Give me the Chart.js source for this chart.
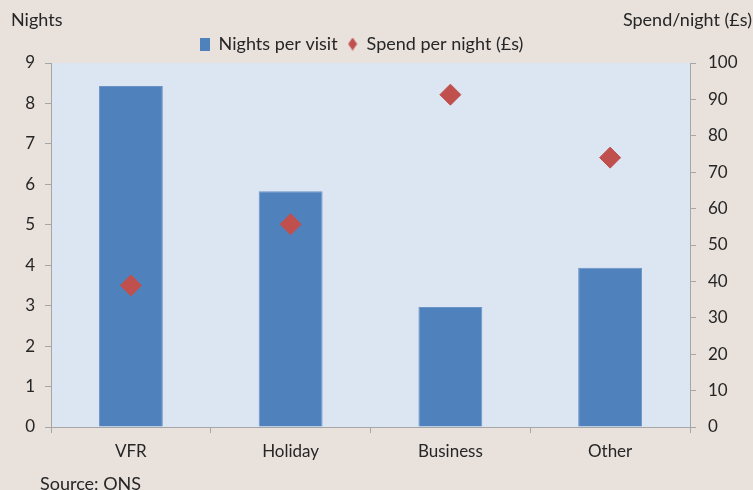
<!DOCTYPE html>
<html>
<head>
<meta charset="utf-8">
<script src="https://cdn.jsdelivr.net/npm/chart.js@4"></script>
<style>
  html, body { margin: 0; padding: 0; background: #e8e1dc; }
  #wrap { width: 753px; height: 490px; position: relative; }
</style>
</head>
<body>
<div id="wrap"><canvas id="visitChart"></canvas></div>
<script>
// Nights per visit (left axis) and spend per night (right axis) by purpose
const categories = ['VFR', 'Holiday', 'Business', 'Other'];
const nightsPerVisit = [8.43, 5.83, 2.97, 3.94];
const spendPerNight = [38.9, 55.7, 91.3, 74.0];
const nightsTicks = [0, 1, 2, 3, 4, 5, 6, 7, 8, 9];
const spendTicks = [0, 10, 20, 30, 40, 50, 60, 70, 80, 90, 100];

const TEXT = '#262626';
const AXIS = '#a6a6a6';
const BLUE = '#4f81bd';
const RED = '#c0504d';
const FONT = 'Lato, "Open Sans", sans-serif';

// small legend icons: a tall square and a narrow diamond
function legendIcon(kind) {
    const c = document.createElement('canvas');
    c.width = 10;
    c.height = 13;
    const g = c.getContext('2d');
    if (kind === 'square') {
        g.fillStyle = BLUE;
        g.fillRect(0, 0, 10, 13);
    } else {
        g.fillStyle = RED;
        g.beginPath();
        g.moveTo(5, 0);
        g.lineTo(9.5, 6.5);
        g.lineTo(5, 13);
        g.lineTo(0.5, 6.5);
        g.closePath();
        g.fill();
    }
    return c;
}
const icons = [legendIcon('square'), legendIcon('diamond')];

// fills the plot area, writes the axis titles and the source line
const decor = {
    id: 'decor',
    beforeDraw(chart) {
        const { ctx, chartArea: a } = chart;
        ctx.save();
        ctx.fillStyle = '#dce6f2';
        ctx.fillRect(a.left, a.top, a.right - a.left, a.bottom - a.top);
        ctx.restore();
    },
    afterDraw(chart) {
        const ctx = chart.ctx;
        ctx.save();
        ctx.fillStyle = TEXT;
        ctx.font = '18px ' + FONT;
        ctx.textBaseline = 'middle';
        ctx.textAlign = 'left';
        ctx.fillText('Nights', 11, 20);
        ctx.fillText('Source: ONS', 40, 484);
        ctx.textAlign = 'right';
        ctx.fillText('Spend/night (£s)', 752, 20);
        ctx.restore();
    },
    afterLayout(chart) {
        // nudge the legend a little left of the canvas centre
        if (chart.legend) {
            chart.legend.left -= 15;
            chart.legend.right -= 15;
        }
    }
};

const ctx = document.getElementById('visitChart').getContext('2d');
new Chart(ctx, {
    data: {
        labels: categories,
        datasets: [
            {
                type: 'bar',
                label: 'Nights per visit',
                data: nightsPerVisit,
                yAxisID: 'y',
                backgroundColor: BLUE,
                borderColor: '#6a93c6',
                borderWidth: 1,
                categoryPercentage: 1,
                barPercentage: 0.4,
                order: 1
            },
            {
                type: 'line',
                label: 'Spend per night (£s)',
                data: spendPerNight,
                yAxisID: 'y1',
                showLine: false,
                pointStyle: 'rectRot',
                pointRadius: 10.5,
                pointBackgroundColor: RED,
                pointBorderColor: RED,
                pointBorderWidth: 1,
                backgroundColor: RED,
                borderColor: RED,
                order: 0
            }
        ]
    },
    options: {
        responsive: true,
        maintainAspectRatio: false,
        animation: false,
        layout: { padding: { top: 25, left: 0, right: 0, bottom: 0 } },
        plugins: {
            tooltip: { enabled: false },
            legend: {
                position: 'top',
                labels: {
                    usePointStyle: true,
                    boxWidth: 10,
                    boxHeight: 10,
                    padding: 10,
                    color: TEXT,
                    font: { family: FONT, size: 18 },
                    sort: (a, b) => a.datasetIndex - b.datasetIndex,
                    generateLabels(chart) {
                        const items = Chart.defaults.plugins.legend.labels.generateLabels(chart);
                        items.forEach(it => { it.pointStyle = icons[it.datasetIndex]; });
                        return items;
                    }
                }
            }
        },
        scales: {
            x: {
                grid: { offset: true, drawOnChartArea: false, color: AXIS, tickLength: 6 },
                border: { color: AXIS },
                ticks: { color: TEXT, font: { family: FONT, size: 17 }, padding: 8 },
                afterFit(s) { s.height = 63; }
            },
            y: {
                position: 'left',
                min: 0,
                max: 9,
                grid: { drawOnChartArea: false, color: AXIS, tickLength: 6 },
                border: { color: AXIS },
                afterBuildTicks(s) { s.ticks = nightsTicks.map(v => ({ value: v })); },
                ticks: { color: TEXT, font: { family: FONT, size: 17 }, padding: 10 },
                afterFit(s) { s.width = 51; }
            },
            y1: {
                position: 'right',
                min: 0,
                max: 100,
                grid: { drawOnChartArea: false, color: AXIS, tickLength: 6 },
                border: { color: AXIS },
                afterBuildTicks(s) { s.ticks = spendTicks.map(v => ({ value: v })); },
                ticks: { color: TEXT, font: { family: FONT, size: 17 }, padding: 12 },
                afterFit(s) { s.width = 63; }
            }
        }
    },
    plugins: [decor]
});
</script>
</body>
</html>
